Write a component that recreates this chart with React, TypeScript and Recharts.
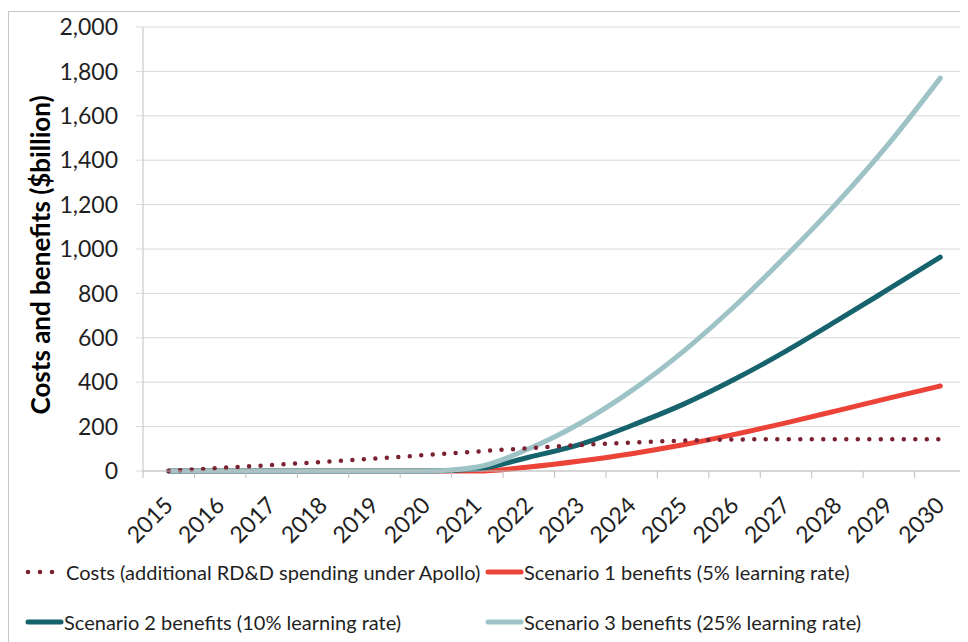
import React from "react";
import { CartesianGrid, Line, LineChart, XAxis, YAxis } from "recharts";

const years = [
  "2015", "2016", "2017", "2018", "2019", "2020", "2021", "2022",
  "2023", "2024", "2025", "2026", "2027", "2028", "2029", "2030",
];
const costs = [0, 14, 27, 41, 56, 72, 88, 103, 117, 128, 137, 142, 143, 143, 143, 143];
const scenario1 = [0, 0, 0, 0, 0, 0, 0, 18, 45, 78, 118, 165, 217, 272, 328, 383];
const scenario2 = [0, 0, 0, 0, 0, 0, 9, 62, 120, 205, 300, 413, 540, 678, 820, 963];
const scenario3 = [0, 0, 0, 0, 0, 0, 18, 100, 215, 362, 538, 742, 968, 1210, 1475, 1770];
const yTicks = [0, 200, 400, 600, 800, 1000, 1200, 1400, 1600, 1800, 2000];

const seriesNames = {
  costs: "Costs (additional RD&D spending under Apollo)",
  s1: "Scenario 1 benefits (5% learning rate)",
  s2: "Scenario 2 benefits (10% learning rate)",
  s3: "Scenario 3 benefits (25% learning rate)",
};

const COLORS = {
  costs: "#7b2232",
  s1: "#eb4338",
  s2: "#17636d",
  s3: "#9dc3c6",
};

const FONT = 'Lato, "Open Sans", sans-serif';
const W = 959;
const H = 630;
const PLOT_LEFT = 134;
const PLOT_RIGHT = 957;
const HALF_BAND = (PLOT_RIGHT - PLOT_LEFT) / years.length / 2;
const TICK_GAP = 30;

const data = years.map((year, i) => ({
  year,
  costs: costs[i],
  s1: scenario1[i],
  s2: scenario2[i],
  s3: scenario3[i],
}));

function YearTick(props: any) {
  const { x, y, payload } = props;
  const axisY = y - TICK_GAP;
  const last = payload.value === years[years.length - 1];
  return (
    <g>
      <line x1={x - HALF_BAND} x2={x - HALF_BAND} y1={axisY} y2={axisY + 7} stroke="#bfbfbf" />
      {last && (
        <line x1={x + HALF_BAND} x2={x + HALF_BAND} y1={axisY} y2={axisY + 7} stroke="#bfbfbf" />
      )}
      <text
        x={x}
        y={y}
        dy="0.35em"
        textAnchor="end"
        transform={`rotate(-45 ${x} ${y})`}
        fill="#1f1f1f"
        fontSize={23}
        fontFamily={FONT}
      >
        {payload.value}
      </text>
    </g>
  );
}

function YTitle(props: any) {
  const vb = props.viewBox;
  const cx = vb.x + 31;
  const cy = vb.y + vb.height / 2 + 6;
  return (
    <text
      x={cx}
      y={cy}
      transform={`rotate(-90 ${cx} ${cy})`}
      textAnchor="middle"
      dominantBaseline="central"
      fontSize={26}
      fontWeight={700}
      fontFamily={FONT}
      fill="#000"
    >
      Costs and benefits ($billion)
    </text>
  );
}

function Swatch({ kind }: { kind: "costs" | "s1" | "s2" | "s3" }) {
  if (kind === "costs") {
    return (
      <svg width={38} height={10} style={{ display: "block" }}>
        {[5, 17, 29].map((cx) => (
          <circle key={cx} cx={cx} cy={5} r={2.3} fill={COLORS.costs} />
        ))}
      </svg>
    );
  }
  return (
    <svg width={39} height={10} style={{ display: "block" }}>
      <line x1={3} x2={36} y1={5} y2={5} stroke={COLORS[kind]} strokeWidth={5} strokeLinecap="round" />
    </svg>
  );
}

function LegendItem({ kind, left, top }: { kind: "costs" | "s1" | "s2" | "s3"; left: number; top: number }) {
  return (
    <div
      style={{
        position: "absolute",
        left,
        top,
        display: "flex",
        alignItems: "center",
        gap: kind === "costs" ? 5 : 0,
        fontSize: 20,
        fontFamily: FONT,
        color: "#1f1f1f",
        whiteSpace: "nowrap",
        lineHeight: "24px",
      }}
    >
      <Swatch kind={kind} />
      <span>{seriesNames[kind]}</span>
    </div>
  );
}

export default function App() {
  return (
    <div
      style={{
        position: "relative",
        width: W,
        height: H,
        marginTop: 3,
        borderLeft: "1px solid #c6c6c6",
        borderTop: "1px solid #c6c6c6",
        fontFamily: FONT,
        background: "#fff",
      }}
    >
      <LineChart width={W} height={H} data={data} margin={{ top: 15, right: 2, left: 0, bottom: 91 }}>
        <CartesianGrid vertical={false} stroke="#d9d9d9" />
        <XAxis
          dataKey="year"
          interval={0}
          height={80}
          padding={{ left: HALF_BAND, right: HALF_BAND }}
          axisLine={{ stroke: "#bfbfbf" }}
          tickLine={false}
          tickSize={0}
          tickMargin={TICK_GAP}
          tick={<YearTick />}
        />
        <YAxis
          width={134}
          domain={[0, 2000]}
          ticks={yTicks}
          interval={0}
          axisLine={{ stroke: "#bfbfbf" }}
          tickLine={{ stroke: "#d9d9d9" }}
          tickSize={7}
          tickMargin={18}
          tick={{ fill: "#1f1f1f", fontSize: 23, fontFamily: FONT }}
          tickFormatter={(v: number) => v.toLocaleString("en-US")}
          label={{ content: <YTitle /> }}
        />
        <Line
          dataKey="s1"
          name={seriesNames.s1}
          type="monotone"
          stroke={COLORS.s1}
          strokeWidth={5}
          strokeLinecap="round"
          dot={false}
          activeDot={false}
          isAnimationActive={false}
        />
        <Line
          dataKey="s2"
          name={seriesNames.s2}
          type="monotone"
          stroke={COLORS.s2}
          strokeWidth={5}
          strokeLinecap="round"
          dot={false}
          activeDot={false}
          isAnimationActive={false}
        />
        <Line
          dataKey="s3"
          name={seriesNames.s3}
          type="monotone"
          stroke={COLORS.s3}
          strokeWidth={5}
          strokeLinecap="round"
          dot={false}
          activeDot={false}
          isAnimationActive={false}
        />
        <Line
          dataKey="costs"
          name={seriesNames.costs}
          type="monotone"
          stroke={COLORS.costs}
          strokeWidth={4.5}
          strokeDasharray="0 11.5"
          strokeLinecap="round"
          dot={false}
          activeDot={false}
          isAnimationActive={false}
        />
      </LineChart>
      <LegendItem kind="costs" left={14} top={548} />
      <LegendItem kind="s1" left={476} top={548} />
      <LegendItem kind="s2" left={16} top={598} />
      <LegendItem kind="s3" left={476} top={598} />
    </div>
  );
}
